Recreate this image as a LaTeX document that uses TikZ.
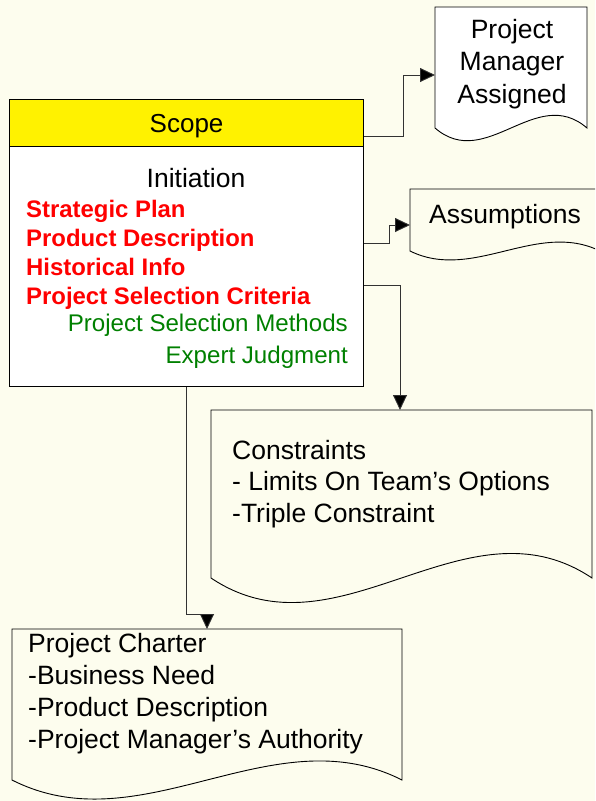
\documentclass[tikz,border=0pt]{standalone}
\usepackage{fontspec}
\setmainfont{Liberation Sans}
\usetikzlibrary{arrows.meta,calc}
\definecolor{bgcol}{RGB}{253,253,238}
\definecolor{redtxt}{RGB}{255,0,0}
\definecolor{greentxt}{RGB}{0,128,0}
\definecolor{linecol}{RGB}{50,50,50}
\tikzset{
  docline/.style={draw=black, line width=0.9pt},
  conn/.style={draw=linecol, line width=0.9pt, -{Triangle[length=15pt,width=14pt,fill=black]}},
  area/.style={inner sep=0pt, anchor=north west},
  bigtxt/.style={inner sep=0pt, font=\fontsize{26.5}{32}\selectfont},
}
\begin{document}
\begin{tikzpicture}[x=1pt,y=-1pt]
\useasboundingbox (0,0) rectangle (595,801);
\fill[bgcol] (0,0) rectangle (595,801);
\clip (0,0) rectangle (595,801);

% Scope box
\node[draw=black, line width=1.2pt, fill=yellow, minimum width=354, minimum height=47,
      anchor=north west, font=\fontsize{26}{32}\selectfont, text height=18.6pt, text depth=0pt] (scope) at (9,99) {Scope};
\node[draw=black, line width=1.2pt, fill=white, minimum width=354, minimum height=240,
      anchor=north west] (body) at (9,146) {};
\node[bigtxt, anchor=base] (init) at (196,187) {Initiation};
\node[inner sep=0pt, anchor=north west, align=left, text=redtxt,
      font=\bfseries\fontsize{23.9}{29}\selectfont] (inputs) at (26,200)
      {Strategic Plan\\Product Description\\Historical Info\\Project Selection Criteria};
\node[inner sep=0pt, anchor=north east, align=right, text=greentxt,
      font=\fontsize{24.1}{32}\selectfont] (tools) at (348,314)
      {Project Selection Methods\\Expert Judgment};

% Project Manager Assigned document
\draw[docline, fill=white] (435,128) -- (435,7) -- (587,7) -- (587,128)
  .. controls (536,84) and (486,172) .. (435,128) -- cycle;
\node[area, minimum width=152, minimum height=121] (pm) at (435,7) {};
\node[bigtxt, anchor=north, align=center, font=\fontsize{26.5}{32.5}\selectfont] (pmtxt) at (512,19)
  {Project\\Manager\\Assigned};

% Assumptions document
\draw[docline] (410,251) -- (410,189) -- (600,189) -- (600,251)
  .. controls (537,220) and (473,282) .. (410,251) -- cycle;
\node[area, minimum width=190, minimum height=62] (asm) at (410,189) {};
\node[bigtxt, anchor=base west] (asmtxt) at (429,223) {Assumptions};

% Constraints document
\draw[docline] (211,578) -- (211,410) -- (592,410) -- (592,578)
  .. controls (465,493) and (338,663) .. (211,578) -- cycle;
\node[area, minimum width=381, minimum height=168] (con) at (211,410) {};
\node[bigtxt, anchor=north west, align=left, font=\fontsize{26.5}{31.5}\selectfont] (context) at (232,440)
  {Constraints\\- Limits On Team’s Options\\-Triple Constraint};

% Project Charter document
\draw[docline] (12,780) -- (12,629) -- (402,629) -- (402,780)
  .. controls (272,714) and (142,846) .. (12,780) -- cycle;
\node[area, minimum width=390, minimum height=151] (chr) at (12,629) {};
\node[bigtxt, anchor=north west, align=left] (chrtxt) at (28,633)
  {Project Charter\\-Business Need\\-Product Description\\-Project Manager’s Authority};

% Connectors
\draw[conn] ($(scope.south east)+(0,-11)$) -- ++(39,0) |- ($(pm.north west)+(0,68)$);
\draw[conn] ($(body.north east)+(0,97)$) -- ++(25,0) |- ($(asm.north west)+(0,36)$);
\draw[conn] ($(body.north east)+(0,139)$) -| ($(con.north west)+(189,0)$);
\draw[conn] (body.south) -- ++(0,227) -| ($(chr.north west)+(195,0)$);
\end{tikzpicture}
\end{document}
